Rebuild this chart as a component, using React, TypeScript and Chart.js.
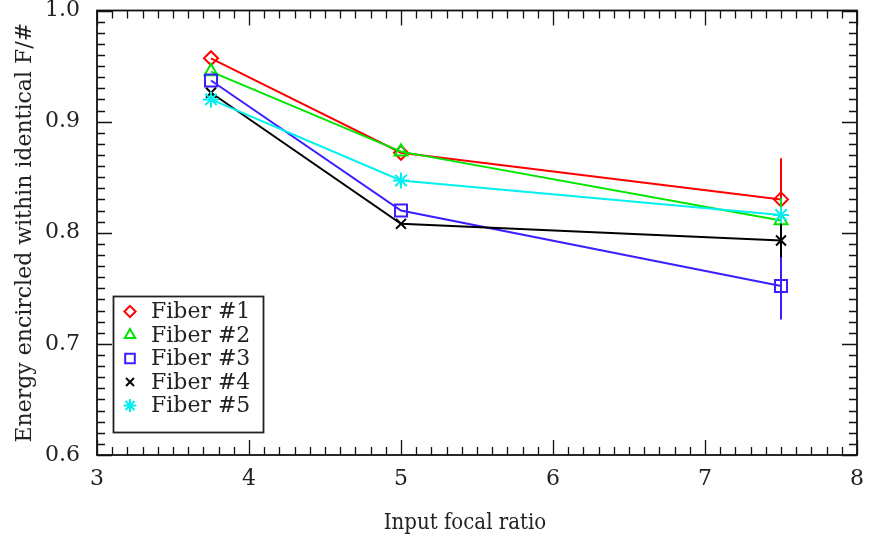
import React, { useEffect, useRef } from 'react';
import { Chart, registerables } from 'chart.js';
import { drawPoint } from 'chart.js/helpers';

Chart.register(...registerables);

const focalRatios = [3.75, 5, 7.5];
const fiberLabels = ['Fiber #1', 'Fiber #2', 'Fiber #3', 'Fiber #4', 'Fiber #5'];
const fiber1 = [0.957, 0.872, 0.830];
const fiber2 = [0.945, 0.873, 0.811];
const fiber3 = [0.937, 0.820, 0.752];
const fiber4 = [0.926, 0.808, 0.793];
const fiber5 = [0.920, 0.847, 0.816];
const fiber1Err = [0, 0, 0.037];
const fiber2Err = [0, 0, 0.02];
const fiber3Err = [0, 0, 0.03];
const fiber4Err = [0, 0, 0.015];
const fiber5Err = [0, 0, 0.004];
const xTickValues = [3, 4, 5, 6, 7, 8];
const yTickValues = [0.6, 0.7, 0.8, 0.9, 1.0];
const xTitle = 'Input focal ratio';
const yTitle = 'Energy encircled within identical F/#';

const seriesValues = [fiber1, fiber2, fiber3, fiber4, fiber5];
const seriesErrors = [fiber1Err, fiber2Err, fiber3Err, fiber4Err, fiber5Err];
const seriesColors = ['#ff0000', '#00e600', '#3a1fff', '#000000', '#00f0f0'];
const seriesShapes = ['rectRot', 'triangle', 'rect', 'crossRot', 'star'];
const seriesRadius = [7, 7.5, 8.5, 7, 8];

const TEXT = '#222222';
const SERIF = "'DejaVu Serif', serif";
const SERIF_COND = "'DejaVu Serif Condensed', 'DejaVu Serif', serif";

const framePlugin = {
  id: 'frameTicks',
  afterDatasetsDraw(chart: any) {
    const { ctx, chartArea: a, scales } = chart;
    const xs = scales.x;
    const ys = scales.y;
    ctx.save();
    ctx.strokeStyle = '#111';
    ctx.lineWidth = 1.8;
    ctx.strokeRect(a.left, a.top, a.right - a.left, a.bottom - a.top);
    ctx.lineWidth = 1.3;
    ctx.beginPath();
    for (let i = 0; i <= 50; i++) {
      const v = 3 + i * 0.1;
      const px = Math.round(xs.getPixelForValue(v)) + 0.5;
      const len = i % 10 === 0 ? 15 : 8;
      ctx.moveTo(px, a.bottom);
      ctx.lineTo(px, a.bottom - len);
      ctx.moveTo(px, a.top);
      ctx.lineTo(px, a.top + len);
    }
    for (let i = 0; i <= 40; i++) {
      const v = 0.6 + i * 0.01;
      const py = Math.round(ys.getPixelForValue(v)) + 0.5;
      const len = i % 10 === 0 ? 15 : 8;
      ctx.moveTo(a.left, py);
      ctx.lineTo(a.left + len, py);
      ctx.moveTo(a.right, py);
      ctx.lineTo(a.right - len, py);
    }
    ctx.stroke();
    ctx.restore();
  },
};

const errorBarPlugin = {
  id: 'errorBars',
  afterDatasetDraw(chart: any, args: any) {
    const idx = args.index;
    const errs = seriesErrors[idx];
    const vals = seriesValues[idx];
    const { ctx, scales } = chart;
    ctx.save();
    ctx.strokeStyle = seriesColors[idx];
    ctx.lineWidth = 2;
    ctx.beginPath();
    for (let i = 0; i < vals.length; i++) {
      if (!errs[i]) continue;
      const px = scales.x.getPixelForValue(focalRatios[i]);
      const y1 = scales.y.getPixelForValue(vals[i] - errs[i]);
      const y2 = scales.y.getPixelForValue(vals[i] + errs[i]);
      ctx.moveTo(px, y1);
      ctx.lineTo(px, y2);
    }
    ctx.stroke();
    ctx.restore();
  },
};

const legendPlugin = {
  id: 'boxLegend',
  afterDraw(chart: any) {
    const { ctx } = chart;
    const bx = 113.5;
    const by = 296.5;
    const bw = 150;
    const bh = 136;
    ctx.save();
    ctx.fillStyle = '#ffffff';
    ctx.fillRect(bx, by, bw, bh);
    ctx.strokeStyle = '#222';
    ctx.lineWidth = 1.8;
    ctx.strokeRect(bx, by, bw, bh);
    ctx.font = `22px ${SERIF}`;
    ctx.textBaseline = 'middle';
    ctx.textAlign = 'left';
    for (let i = 0; i < fiberLabels.length; i++) {
      const cy = by + 15 + i * 23.5;
      ctx.strokeStyle = seriesColors[i];
      ctx.fillStyle = 'rgba(0,0,0,0)';
      ctx.lineWidth = 2;
      drawPoint(ctx, { pointStyle: seriesShapes[i], radius: seriesRadius[i] * 0.8, rotation: 0, borderWidth: 2 } as any, 130, cy);
      ctx.fillStyle = TEXT;
      ctx.fillText(fiberLabels[i], 151, cy + 1);
    }
    // x-axis title
    ctx.font = `22px ${SERIF_COND}`;
    ctx.textAlign = 'center';
    ctx.textBaseline = 'middle';
    ctx.fillStyle = TEXT;
    ctx.fillText(xTitle, 465, 523);
    ctx.restore();
  },
};

export default function App() {
  const ref = useRef<HTMLCanvasElement | null>(null);
  useEffect(() => {
    if (!ref.current) return;
    const datasets = seriesValues.map((vals, i) => ({
      label: fiberLabels[i],
      data: vals.map((v, j) => ({ x: focalRatios[j], y: v })),
      borderColor: seriesColors[i],
      backgroundColor: 'rgba(0,0,0,0)',
      pointBackgroundColor: 'rgba(0,0,0,0)',
      pointBorderColor: seriesColors[i],
      pointStyle: seriesShapes[i] as any,
      pointRadius: seriesRadius[i],
      pointBorderWidth: 2,
      borderWidth: 2,
      tension: 0,
      order: 5 - i,
    }));
    const chart = new Chart(ref.current, {
      type: 'line',
      data: { datasets },
      options: {
        animation: false,
        responsive: false,
        maintainAspectRatio: false,
        layout: { padding: { top: 6, right: 14, left: 0, bottom: 0 } },
        plugins: { legend: { display: false }, tooltip: { enabled: false } },
        scales: {
          x: {
            type: 'linear',
            min: 3,
            max: 8,
            afterBuildTicks: (s: any) => {
              s.ticks = xTickValues.map((v) => ({ value: v }));
            },
            afterFit: (s: any) => {
              s.height = 86;
              s.paddingLeft = 0;
              s.paddingRight = 0;
            },
            ticks: {
              font: { family: SERIF, size: 22 },
              color: TEXT,
              padding: 3,
              maxRotation: 0,
              callback: (v: any) => String(v),
            },
            grid: { display: false },
            border: { display: false },
            title: { display: false, text: xTitle },
          },
          y: {
            type: 'linear',
            min: 0.6,
            max: 1.0,
            afterBuildTicks: (s: any) => {
              s.ticks = yTickValues.map((v) => ({ value: v }));
            },
            afterFit: (s: any) => {
              s.width = 97;
              s.paddingTop = 0;
              s.paddingBottom = 0;
            },
            ticks: {
              font: { family: SERIF, size: 22 },
              color: TEXT,
              padding: 9,
              callback: (v: any) => Number(v).toFixed(1),
            },
            grid: { display: false },
            border: { display: false },
            title: {
              display: true,
              text: yTitle,
              font: { family: SERIF, size: 22 },
              color: TEXT,
              padding: { top: 12, bottom: 0 },
            },
          },
        },
      },
      plugins: [framePlugin, errorBarPlugin, legendPlugin],
    });
    return () => chart.destroy();
  }, []);
  return (
    <div style={{ position: 'fixed', left: 0, top: 0, width: 871, height: 541, background: '#fff' }}>
      <canvas ref={ref} width={871} height={541} style={{ display: 'block', width: 871, height: 541 }} />
    </div>
  );
}
